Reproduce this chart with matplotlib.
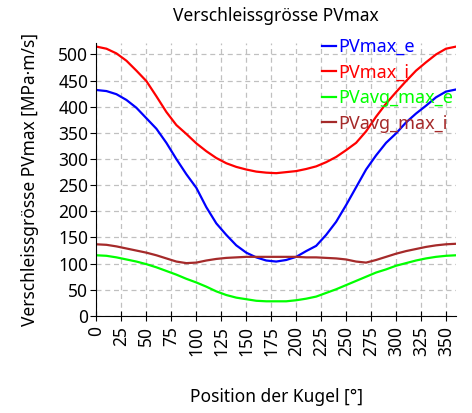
import numpy as np
import matplotlib
matplotlib.use("Agg")
import matplotlib.pyplot as plt

plt.rcParams['font.family'] = ['Noto Sans', 'DejaVu Sans']

position = np.arange(0, 361, 10)

pvmax_e = [432, 430, 424, 413, 398, 378, 358, 331, 300, 271,
           245, 208, 177, 155, 135, 121, 112, 106, 104, 107,
           113, 124, 134, 155, 180, 212, 246, 280, 307, 331,
           349, 370, 387, 402, 418, 429, 433]
pvmax_i = [515, 511, 502, 488, 469, 449, 420, 390, 365, 348,
           330, 315, 302, 292, 285, 280, 276, 274, 273, 275,
           277, 281, 286, 294, 304, 317, 331, 353, 381, 406,
           428, 449, 469, 485, 500, 511, 515]
pvavg_max_e = [116, 115, 112, 108, 104, 99, 93, 86, 79, 71,
               64, 56, 47, 40, 35, 32, 29, 28, 28, 28,
               30, 33, 37, 44, 51, 59, 67, 75, 83, 89,
               96, 101, 106, 110, 113, 115, 116]
pvavg_max_i = [137, 136, 133, 129, 125, 121, 116, 110, 104, 101,
               102, 106, 109, 111, 112, 113, 113, 113, 113, 113,
               113, 112, 112, 111, 110, 108, 104, 102, 107, 113,
               119, 124, 128, 132, 135, 137, 138]

series = [
    ('PVmax_e', pvmax_e, '#0000ff'),
    ('PVmax_i', pvmax_i, '#ff0000'),
    ('PVavg_max_e', pvavg_max_e, '#00ff00'),
    ('PVavg_max_i', pvavg_max_i, '#a52a2a'),
]

fig = plt.figure(figsize=(4.72, 4.13), dpi=100)
ax = fig.add_axes([0.2044, 0.235, 0.7616, 0.661])

for name, values, color in series:
    ax.plot(position, values, color=color, linewidth=1.6, label=name)

ax.set_xlim(0, 360)
ax.set_ylim(0, 522)
ax.set_xticks(np.arange(0, 351, 25))
ax.set_yticks(np.arange(0, 501, 50))
ax.tick_params(axis='x', direction='inout', length=7, labelrotation=90, labelsize=12.5)
ax.tick_params(axis='y', direction='out', length=4, labelsize=12.5, pad=2)
ax.grid(True, color='#c0c0c0', linestyle=(0, (4, 3)), linewidth=0.9)
ax.spines['top'].set_visible(False)
ax.spines['right'].set_visible(False)

ax.set_title('Verschleissgrösse PVmax', fontsize=12.5, pad=16)
ax.set_xlabel('Position der Kugel [°]', fontsize=12.5, labelpad=23)
ax.set_ylabel('Verschleissgrösse PVmax [MPa·m/s]', fontsize=12.5, labelpad=14)

leg = ax.legend(loc='upper right', bbox_to_anchor=(1.012, 1.045), frameon=False,
                fontsize=13, handlelength=0.8, handletextpad=0.1,
                labelspacing=0.42, borderaxespad=0)
for text, (_, _, color) in zip(leg.get_texts(), series):
    text.set_color(color)

fig.savefig('out.png', dpi=100)
